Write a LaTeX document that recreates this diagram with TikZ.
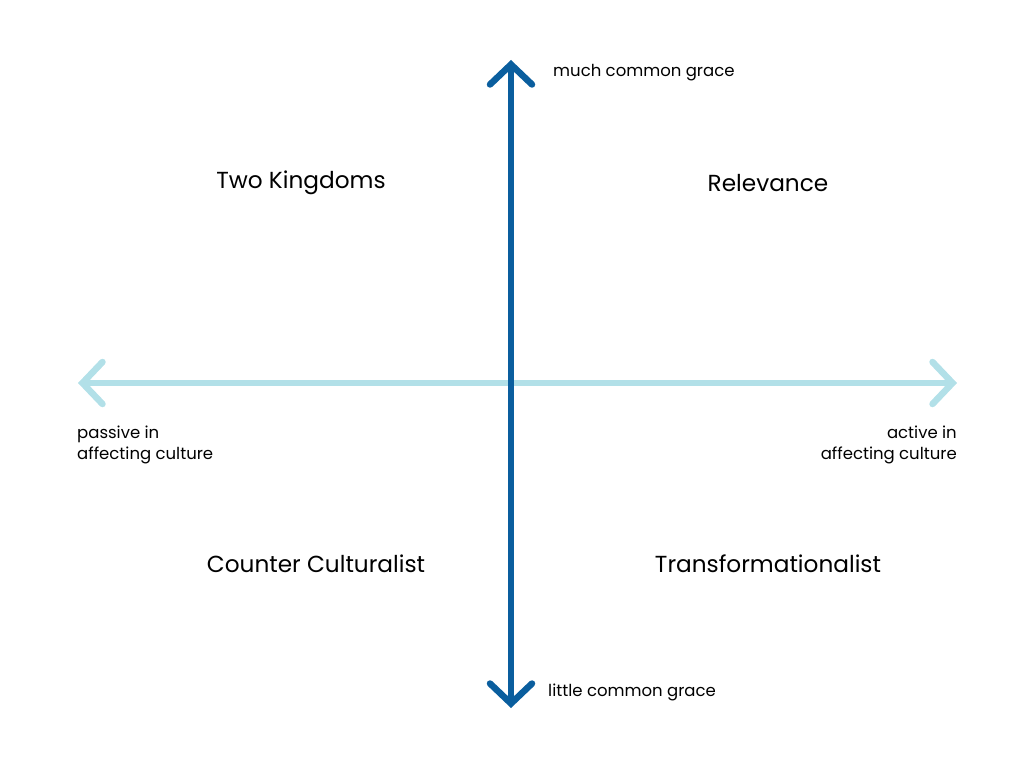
\documentclass[tikz,border=0pt]{standalone}
\usepackage{fontspec}
\setmainfont{Poppins}
\usetikzlibrary{arrows.meta}
\definecolor{lightax}{HTML}{B2E0E8}
\definecolor{darkax}{HTML}{0A5E9E}
\begin{document}
\begin{tikzpicture}[x=1pt,y=-1pt,
  big/.style={font=\fontsize{23.2}{28}\selectfont},
  small/.style={font=\fontsize{16.5}{21}\selectfont, align=left},
  axis/.style={line width=6.5pt, line cap=round, {Straight Barb[length=20pt,width=42pt,line cap=round]}-{Straight Barb[length=20pt,width=42pt,line cap=round]}}]
\useasboundingbox (0,0) rectangle (1024,768);
\coordinate (L) at (78,383);
\coordinate (R) at (957,383);
\coordinate (T) at (511,60);
\coordinate (B) at (511,708);
\draw[axis, lightax] (L) -- (R);
\draw[axis, darkax] (T) -- (B);
\node[big] (tk) at (301,183) {Two Kingdoms};
\node[big] (rel) at (768,183) {Relevance};
\node[big] (cc) at (316,564) {Counter Culturalist};
\node[big] (tr) at (768,564) {Transformationalist};
\node[small, anchor=west, inner sep=0pt] (much) at (553,73) {much common grace};
\node[small, anchor=west, inner sep=0pt] (little) at (548,692) {little common grace};
\node[small, anchor=north west, inner sep=0pt] (pas) at (77,426) {passive in\\affecting culture};
\node[small, anchor=north east, align=right, inner sep=0pt] (act) at (957,426) {active in\\affecting culture};
\end{tikzpicture}
\end{document}
